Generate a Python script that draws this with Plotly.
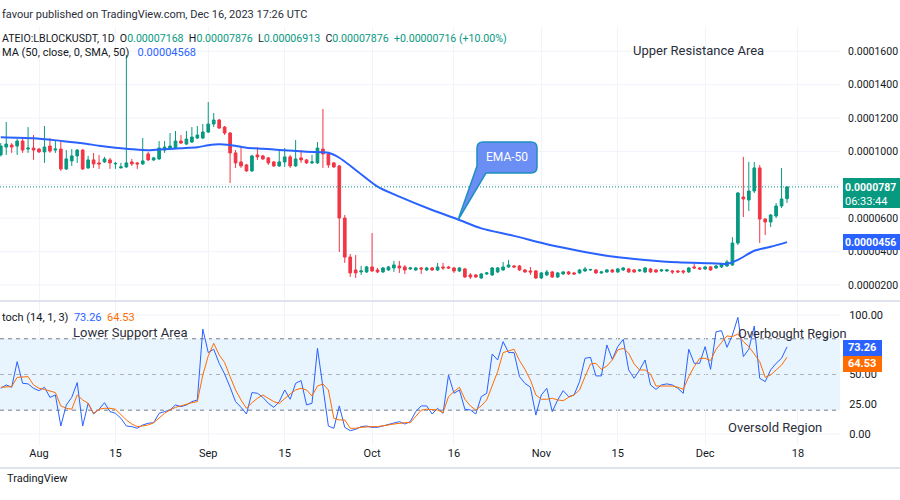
import plotly.graph_objects as go
import pandas as pd

# ---------------- data (prices in units of 1e-5 USDT) ----------------
dates = pd.date_range("2023-07-25", "2023-12-16", freq="D")

open_e5 = [
    # Jul 25-31
    9.79, 10.26, 10.38, 10.32, 10.62, 10.14, 10.20,
    # Aug
    10.14, 9.97, 10.32, 10.08, 10.14, 8.95, 9.43, 9.73, 10.08, 9.01,
    9.49, 9.31, 9.37, 9.49, 9.25, 9.01, 9.07, 9.37, 9.31, 9.25,
    9.85, 9.49, 9.55, 10.08, 10.14, 10.20, 10.62, 10.44, 10.56, 10.80, 10.80,
    # Sep
    11.16, 11.64, 11.88, 11.46, 11.10, 9.91, 9.37, 9.19, 8.83, 9.79,
    9.73, 9.61, 9.37, 9.13, 9.37, 9.67, 9.13, 9.61, 9.49, 9.31,
    9.31, 10.14, 9.85, 9.31, 9.13, 6.01, 3.67, 2.90, 2.78, 2.78,
    # Oct
    3.08, 2.90, 2.78, 2.90, 3.02, 3.14, 3.08, 2.96, 2.90, 3.02,
    2.90, 3.02, 2.90, 3.08, 3.08, 3.02, 2.84, 2.96, 2.60, 2.60,
    2.42, 2.66, 2.60, 2.78, 2.90, 3.08, 3.14, 3.14, 2.90, 2.84, 2.84,
    # Nov
    2.42, 2.60, 2.78, 2.48, 2.66, 2.78, 2.72, 2.72, 2.84, 2.90,
    2.90, 2.72, 2.78, 2.90, 2.78, 2.90, 2.96, 2.90, 2.84, 2.78,
    2.96, 2.90, 2.84, 2.84, 2.84, 2.84, 2.84, 2.78, 3.08, 3.02,
    # Dec 1-16
    2.96, 3.08, 3.02, 3.08, 3.14, 3.20, 4.51, 7.27, 7.09, 7.63,
    9.01, 5.95, 5.77, 6.13, 6.73, 7.168,
]
high_e5 = [
    10.50, 11.76, 10.50, 10.74, 10.86, 11.46, 10.98,
    10.20, 11.52, 10.80, 10.62, 10.68, 10.08, 10.14, 10.14, 10.14, 9.73,
    9.91, 9.79, 9.67, 9.61, 9.37, 9.31, 15.78, 9.55, 9.37, 10.80,
    9.97, 9.67, 10.62, 10.62, 11.10, 11.22, 10.98, 11.22, 11.46, 11.52, 11.64,
    12.96, 12.30, 11.95, 11.52, 11.16, 10.08, 10.26, 9.25, 9.79, 10.26,
    9.79, 9.67, 9.43, 10.08, 10.20, 9.79, 10.68, 10.08, 9.55, 9.79,
    10.56, 12.54, 9.97, 9.37, 9.19, 6.19, 3.85, 3.79, 3.14, 3.14,
    5.11, 3.02, 3.08, 3.14, 3.44, 3.44, 3.20, 3.08, 3.08, 3.08,
    3.08, 3.08, 3.32, 3.32, 3.14, 3.08, 3.08, 3.02, 2.72, 2.66,
    2.72, 2.78, 3.08, 3.08, 3.38, 3.50, 3.20, 3.20, 2.96, 3.08, 2.90,
    2.78, 2.90, 2.84, 2.78, 2.84, 2.84, 2.78, 2.96, 3.08, 2.96,
    2.96, 2.84, 2.96, 2.96, 3.02, 3.08, 3.02, 2.96, 2.96, 3.08,
    3.02, 2.96, 2.96, 2.96, 2.90, 2.90, 2.90, 3.08, 3.26, 3.08,
    3.14, 3.14, 3.20, 3.32, 3.50, 4.87, 7.57, 9.67, 9.37, 9.37,
    9.19, 6.01, 6.25, 6.91, 9.01, 7.876,
]
low_e5 = [
    9.70, 9.79, 9.91, 9.79, 9.91, 9.91, 9.49,
    9.90, 9.31, 9.91, 9.91, 8.83, 8.89, 9.13, 9.31, 8.89, 8.95,
    9.01, 8.95, 9.31, 8.95, 8.95, 8.98, 9.01, 9.13, 8.95, 9.19,
    9.43, 9.43, 9.49, 9.91, 10.08, 10.14, 10.44, 10.38, 10.50, 10.74, 10.74,
    11.10, 11.46, 11.34, 10.98, 8.11, 9.01, 9.01, 8.77, 8.77, 9.49,
    9.49, 9.19, 9.07, 9.07, 9.07, 9.01, 9.07, 9.31, 9.25, 9.25,
    9.25, 9.01, 9.01, 9.01, 3.97, 3.32, 2.48, 2.42, 2.60, 2.72,
    2.78, 2.72, 2.72, 2.84, 2.78, 2.72, 2.66, 2.90, 2.84, 2.66,
    2.84, 2.84, 2.84, 2.90, 2.96, 2.72, 2.78, 2.42, 2.36, 2.42,
    2.36, 2.60, 2.54, 2.72, 2.84, 3.02, 3.02, 2.84, 2.72, 2.60, 2.36,
    2.36, 2.54, 2.42, 2.42, 2.60, 2.60, 2.60, 2.66, 2.78, 2.84,
    2.66, 2.66, 2.72, 2.72, 2.72, 2.84, 2.72, 2.72, 2.78, 2.72,
    2.72, 2.72, 2.78, 2.78, 2.66, 2.72, 2.66, 2.72, 2.96, 2.90,
    2.90, 2.84, 2.96, 3.02, 3.08, 3.14, 4.39, 6.07, 6.43, 7.51,
    4.51, 4.99, 5.47, 6.01, 6.61, 6.913,
]
close_e5 = [
    10.32, 10.44, 10.26, 10.62, 10.08, 10.20, 10.08,
    9.97, 10.26, 10.02, 10.14, 8.95, 9.55, 9.73, 10.08, 8.95, 9.49,
    9.25, 9.25, 9.55, 9.31, 9.28, 9.07, 9.31, 9.25, 9.25, 9.43,
    9.49, 9.61, 10.20, 10.26, 10.32, 10.62, 10.50, 10.74, 10.86, 10.98, 11.16,
    11.64, 11.88, 11.40, 11.10, 9.91, 9.31, 9.13, 8.83, 9.73, 9.67,
    9.55, 9.31, 9.13, 9.37, 9.67, 9.13, 9.55, 9.49, 9.31, 9.37,
    10.20, 9.85, 9.19, 9.07, 6.01, 3.67, 2.72, 2.72, 2.84, 3.08,
    2.84, 2.78, 3.02, 3.08, 3.20, 3.02, 2.90, 3.02, 3.02, 2.96,
    3.02, 2.90, 3.08, 3.02, 3.02, 2.84, 3.02, 2.48, 2.48, 2.48,
    2.66, 2.72, 3.02, 3.02, 3.08, 3.20, 3.08, 2.90, 2.78, 2.78, 2.42,
    2.72, 2.78, 2.48, 2.72, 2.78, 2.66, 2.66, 2.90, 2.96, 2.93,
    2.72, 2.78, 2.90, 2.78, 2.96, 3.02, 2.78, 2.78, 2.90, 3.02,
    2.78, 2.78, 2.90, 2.90, 2.78, 2.78, 2.78, 3.02, 3.02, 2.96,
    3.08, 2.90, 3.14, 3.26, 3.38, 4.51, 7.51, 7.15, 7.63, 9.01,
    5.95, 5.77, 6.19, 6.73, 7.15, 7.876,
]

# moving average line read at sample dates (1e-5 USDT)
ma_dates = ["2023-07-25", "2023-07-31", "2023-08-05", "2023-08-09", "2023-08-12",
            "2023-08-15", "2023-08-18", "2023-08-21", "2023-08-24", "2023-08-27",
            "2023-08-30", "2023-09-01", "2023-09-03", "2023-09-05", "2023-09-08",
            "2023-09-11", "2023-09-14", "2023-09-19", "2023-09-23", "2023-09-25",
            "2023-09-28", "2023-10-02", "2023-10-06", "2023-10-12", "2023-10-17",
            "2023-10-21", "2023-10-27", "2023-11-02", "2023-11-08", "2023-11-14",
            "2023-11-20", "2023-11-26", "2023-12-02", "2023-12-05", "2023-12-07",
            "2023-12-10", "2023-12-13", "2023-12-16"]
ma_e5 = [10.85, 10.79, 10.63, 10.49, 10.34, 10.22, 10.13, 10.07, 10.13, 10.19,
         10.25, 10.37, 10.43, 10.38, 10.22, 10.16, 10.09, 9.98, 9.92, 9.62,
         8.89, 7.89, 7.29, 6.49, 5.89, 5.39, 4.94, 4.44, 4.04, 3.70,
         3.50, 3.36, 3.30, 3.26, 3.50, 4.05, 4.29, 4.568]

# Stochastic (14, 1, 3)
stoch_k = [
    38.4, 41.2, 39.3, 60.8, 42.6, 42.1, 38.4,
    36.4, 39.3, 30.8, 32.8, 6.7, 24.4, 30.8, 43.2, 6.7, 25.8,
    16.8, 20.8, 26.3, 18.8, 17.4, 13.2, 6.7, 6.2, 4.8, 7.6,
    9.0, 9.5, 17.4, 18.8, 20.2, 24.4, 23.0, 24.4, 27.2, 28.6, 88.1,
    68.4, 71.2, 59.4, 50.4, 39.3, 27.2, 22.4, 16.8, 34.8, 34.2,
    30.8, 25.8, 22.4, 27.2, 37.0, 29.2, 42.6, 44.9, 24.4, 25.8,
    72.0, 37.0, 6.7, 4.8, 23.6, 5.6, 2.8, 3.9, 6.2, 6.7,
    5.6, 5.6, 6.7, 7.6, 9.0, 10.4, 8.4, 10.4, 18.8, 23.6,
    23.6, 16.8, 21.6, 17.4, 49.6, 34.2, 37.0, 20.8, 20.2, 16.8,
    31.4, 34.2, 67.2, 62.2, 77.6, 68.4, 68.4, 48.2, 42.6, 39.3, 15.9,
    32.8, 38.4, 18.8, 28.6, 36.4, 31.4, 32.8, 44.0, 63.6, 64.4,
    48.8, 48.8, 74.8, 62.7, 73.4, 79.5, 53.8, 46.8, 53.8, 62.2,
    41.2, 37.5, 41.2, 42.1, 41.2, 38.4, 34.2, 71.2, 59.4, 59.4,
    73.4, 54.3, 85.9, 86.8, 72.8, 83.1, 98.0, 65.0, 71.2, 90.7,
    46.8, 44.0, 53.8, 59.4, 63.6, 73.26,
]
stoch_d = [
    39.3, 39.5, 39.8, 47.6, 47.6, 48.2, 41.2,
    38.4, 37.5, 36.4, 34.8, 23.6, 21.6, 20.8, 32.8, 28.6, 25.8,
    17.4, 20.8, 21.6, 21.6, 20.8, 15.9, 11.8, 8.4, 6.2, 6.7,
    7.6, 9.5, 13.2, 17.4, 20.2, 22.4, 23.6, 25.2, 26.3, 27.2, 49.6,
    65.6, 76.2, 66.4, 60.0, 48.2, 37.0, 28.6, 21.6, 26.3, 30.0,
    32.8, 30.0, 27.2, 25.8, 30.0, 33.6, 37.0, 38.4, 37.0, 31.9,
    40.3, 42.1, 37.0, 13.2, 11.8, 11.8, 4.8, 4.8, 5.6, 6.2,
    6.2, 6.2, 6.7, 7.6, 8.4, 9.0, 9.5, 9.5, 14.6, 20.0,
    20.8, 20.8, 20.2, 17.9, 31.4, 35.6, 39.3, 29.2, 23.6, 20.2,
    23.6, 28.6, 41.2, 52.4, 68.4, 70.0, 71.2, 61.7, 54.3, 45.4, 32.8,
    29.2, 29.2, 30.0, 28.6, 28.0, 30.8, 32.8, 37.0, 48.2, 58.8,
    59.4, 54.3, 57.1, 62.2, 70.6, 72.0, 67.8, 58.8, 53.8, 53.8,
    50.4, 40.3, 40.3, 40.3, 40.3, 39.3, 37.5, 48.2, 56.6, 63.6,
    63.6, 61.7, 71.2, 76.8, 82.4, 81.8, 84.0, 77.6, 73.4, 67.2,
    60.8, 47.6, 49.6, 53.8, 57.9, 64.53,
]

tick_dates = ["2023-08-01", "2023-08-15", "2023-09-01", "2023-09-15", "2023-10-01",
              "2023-10-16", "2023-11-01", "2023-11-15", "2023-12-01", "2023-12-18"]
tick_labels = ["Aug", "15", "Sep", "15", "Oct", "16", "Nov", "15", "Dec", "18"]

# price scale labels as they read on the picture (the 0.00008 level sits under the last-price label)
price_ticks = [2, 4, 6, 10, 12, 14, 16]
price_ticktext = ["0.0000200", "0.0000400", "0.0000600",
                  "0.0001000", "0.0001200", "0.0001400", "0.0001600"]
grid_levels = [2, 4, 6, 8, 10, 12, 14, 16]
# stochastic scale labels (75.00 sits under the %K label)
stoch_ticks = [0, 25, 50, 100]
stoch_ticktext = ["0.00", "25.00", "50.00", "100.00"]

last_close = 7.876
last_ma = 4.568
last_close_label = "0.0000787"
last_ma_label = "0.0000456"
countdown = "06:33:44"

# ---------------- styling ----------------
W, H = 900, 500
PR = 840  # right edge of plot area in px
GREEN = "#089981"
RED = "#f23645"
BLUE = "#2962ff"
ORANGE = "#ff6d00"
GRID = "#f0f3fa"
TXT = "#131722"
FONT = "Roboto, 'Open Sans', sans-serif"


def px(x):
    return x / PR


def py(y):
    return 1 - y / H


fig = go.Figure()
fig.add_trace(go.Candlestick(
    x=dates, open=open_e5, high=high_e5, low=low_e5, close=close_e5,
    xaxis="x", yaxis="y", whiskerwidth=0,
    increasing=dict(line=dict(color=GREEN, width=1), fillcolor=GREEN),
    decreasing=dict(line=dict(color=RED, width=1), fillcolor=RED),
    hoverinfo="skip", showlegend=False))
fig.add_trace(go.Scatter(
    x=ma_dates, y=ma_e5, mode="lines", xaxis="x", yaxis="y",
    line=dict(color=BLUE, width=2, shape="spline", smoothing=0.7),
    hoverinfo="skip", showlegend=False))
fig.add_trace(go.Scatter(
    x=dates, y=stoch_k, mode="lines", xaxis="x2", yaxis="y2",
    line=dict(color=BLUE, width=1), hoverinfo="skip", showlegend=False))
fig.add_trace(go.Scatter(
    x=dates, y=stoch_d, mode="lines", xaxis="x2", yaxis="y2",
    line=dict(color=ORANGE, width=1), hoverinfo="skip", showlegend=False))

x_range = ["2023-07-24 20:34", "2023-12-25 16:49"]


def hidden_tick(n):
    return dict(ticks="outside", ticklen=n, tickcolor="rgba(0,0,0,0)", automargin=False)


fig.update_layout(
    width=W, height=H,
    margin=dict(l=0, r=W - PR, t=0, b=0, autoexpand=False),
    paper_bgcolor="white", plot_bgcolor="white",
    showlegend=False,
    font=dict(family=FONT, size=11, color=TXT),
    xaxis=dict(domain=[0, 1], anchor="y", type="date", range=x_range,
               tickvals=tick_dates, showticklabels=False, showgrid=True,
               gridcolor=GRID, zeroline=False, showline=False, automargin=False,
               rangeslider=dict(visible=False), fixedrange=True),
    yaxis=dict(domain=[py(300), py(27)], anchor="x", side="right",
               range=[1.10, 17.45], tickvals=price_ticks, ticktext=price_ticktext,
               showgrid=False, zeroline=False, showline=False,
               tickfont=dict(size=10.5, color=TXT), fixedrange=True, **hidden_tick(5)),
    xaxis2=dict(domain=[0, 1], anchor="y2", type="date", range=x_range,
                tickvals=tick_dates, ticktext=tick_labels, showgrid=True,
                gridcolor=GRID, zeroline=False, showline=False, ticks="",
                automargin=False, tickfont=dict(size=11, color=TXT), fixedrange=True),
    yaxis2=dict(domain=[py(445), py(302)], anchor="x2", side="right",
                range=[-9.24, 110.9], tickvals=stoch_ticks, ticktext=stoch_ticktext,
                showgrid=False, zeroline=False, showline=False,
                tickfont=dict(size=11, color=TXT), fixedrange=True, **hidden_tick(6)),
)

shapes = []
# price grid
for lvl in grid_levels:
    shapes.append(dict(type="line", xref="paper", yref="y", x0=0, x1=1, y0=lvl, y1=lvl,
                       line=dict(color=GRID, width=1), layer="below"))
# stochastic band and levels
shapes.append(dict(type="rect", xref="paper", yref="y2", x0=0, x1=1, y0=20, y1=80,
                   fillcolor="rgba(33,150,243,0.10)", line=dict(width=0), layer="below"))
for lvl, col in [(80, "#787b86"), (50, "rgba(120,123,134,0.55)"), (20, "#787b86")]:
    shapes.append(dict(type="line", xref="paper", yref="y2", x0=0, x1=1, y0=lvl, y1=lvl,
                       line=dict(color=col, width=1, dash="4px,4px"), layer="below"))
for lvl in [0, 100]:
    shapes.append(dict(type="line", xref="paper", yref="y2", x0=0, x1=1, y0=lvl, y1=lvl,
                       line=dict(color=GRID, width=1), layer="below"))
# current price dotted line
shapes.append(dict(type="line", xref="paper", yref="y", x0=0, x1=1,
                   y0=last_close, y1=last_close,
                   line=dict(color=GREEN, width=1, dash="1px,2px")))
# pane separators
shapes.append(dict(type="line", xref="paper", yref="paper", x0=0, x1=W / PR,
                   y0=py(301), y1=py(301), line=dict(color="#e0e3eb", width=2)))
shapes.append(dict(type="line", xref="paper", yref="paper", x0=0, x1=W / PR,
                   y0=py(468), y1=py(468), line=dict(color="#e0e3eb", width=2)))
# EMA-50 callout
pts = [("M", 483, 142), ("L", 531, 142), ("Q", 537, 142, 537, 148), ("L", 537, 167),
       ("Q", 537, 173, 531, 173), ("L", 486, 173), ("L", 458, 220), ("L", 477, 166),
       ("L", 477, 148), ("Q", 477, 142, 483, 142)]
path = ""
for p in pts:
    if p[0] == "Q":
        path += f"Q{px(p[1]):.5f},{py(p[2]):.5f} {px(p[3]):.5f},{py(p[4]):.5f} "
    else:
        path += f"{p[0]}{px(p[1]):.5f},{py(p[2]):.5f} "
path += "Z"
shapes.append(dict(type="path", xref="paper", yref="paper", path=path,
                   fillcolor="#6b8ef5", line=dict(color="#1f8fc1", width=1.5)))
# axis value labels
shapes.append(dict(type="rect", xref="paper", yref="paper", x0=px(843), x1=px(905),
                   y0=py(208), y1=py(178), fillcolor=GREEN, line=dict(width=0)))
shapes.append(dict(type="rect", xref="paper", yref="paper", x0=px(843), x1=px(905),
                   y0=py(250), y1=py(234), fillcolor=BLUE, line=dict(width=0)))
shapes.append(dict(type="rect", xref="paper", yref="paper", x0=px(843), x1=px(882),
                   y0=py(356), y1=py(340), fillcolor=BLUE, line=dict(width=0)))
shapes.append(dict(type="rect", xref="paper", yref="paper", x0=px(843), x1=px(882),
                   y0=py(372), y1=py(356), fillcolor=ORANGE, line=dict(width=0)))
fig.update_layout(shapes=shapes)

NB = "\u00a0"


def g(t):
    return f"<span style='color:{GREEN}'>{t}</span>"


def ann(x, y, text, size=11, color=TXT, xanchor="left"):
    return dict(x=px(x), y=py(y), xref="paper", yref="paper", text=text,
                showarrow=False, xanchor=xanchor, yanchor="middle",
                font=dict(family=FONT, size=size, color=color))


legend1 = ("ATEIO:LBLOCKUSDT, 1D" + NB * 2 + "O" + g("0.00007168") + NB * 2 +
           "H" + g("0.00007876") + NB * 2 + "L" + g("0.00006913") + NB * 2 +
           "C" + g("0.00007876") + NB * 2 + g("+0.00000716 (+10.00%)"))
legend2 = "MA (50, close, 0, SMA, 50)" + NB * 3 + f"<span style='color:{BLUE}'>0.00004568</span>"
stoch_leg = ("toch (14, 1, 3)" + NB * 2 + f"<span style='color:{BLUE}'>73.26</span>" +
             NB * 2 + f"<span style='color:{ORANGE}'>64.53</span>")

annotations = [
    ann(0, 14, "favour published on TradingView.com, Dec 16, 2023 17:26 UTC", 11, "#2a2e39"),
    ann(0, 39, legend1, 10.6),
    ann(0, 53, legend2, 11),
    ann(631, 51, "Upper Resistance Area", 13, "#2a2e39"),
    ann(0, 317, stoch_leg, 11),
    ann(71, 332, "Lower Support Area", 13, "#2a2e39"),
    ann(736, 333, "Overbought Region", 12.8, "#2a2e39"),
    ann(726, 427, "Oversold Region", 13, "#2a2e39"),
    ann(507, 157, "EMA-50", 12, "white", "center"),
    ann(843, 187.5, f"<b>{last_close_label}</b>", 10.5, "white"),
    ann(843, 201.5, countdown, 11, "white"),
    ann(843, 242, f"<b>{last_ma_label}</b>", 10.5, "white"),
    ann(846, 347.5, "<b>73.26</b>", 11, "white"),
    ann(846, 363.5, "<b>64.53</b>", 11, "white"),
    ann(5, 478, "TradingView", 11, TXT),
]
fig.update_layout(annotations=annotations)

fig.write_html("out.html", config={"displayModeBar": False},
               post_script="document.body.style.margin='0';document.body.style.overflow='hidden';")
